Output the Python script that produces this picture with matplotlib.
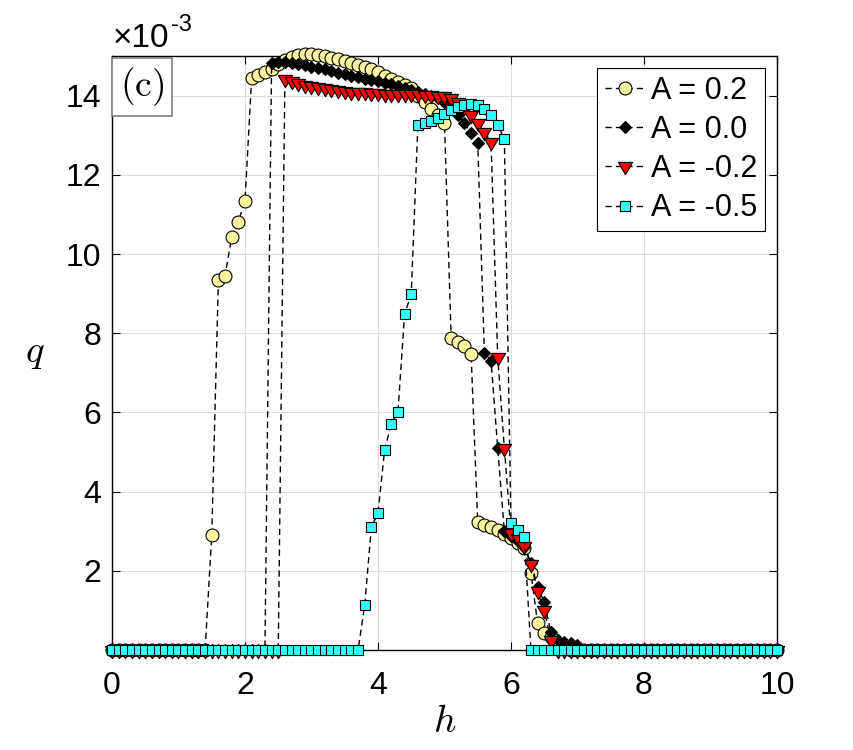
import matplotlib
matplotlib.use("Agg")
import matplotlib.pyplot as plt
from matplotlib.path import Path

plt.rcParams['font.family'] = ['Liberation Sans', 'DejaVu Sans']
plt.rcParams['mathtext.fontset'] = 'cm'

# h grid (step 0.1 from 0 to 10)
h = [i / 10 for i in range(101)]

# q values in units of 1e-3
q_p02 = [0, 0, 0, 0, 0, 0, 0, 0, 0, 0,
         0, 0, 0, 0, 0, 2.9, 9.35, 9.45, 10.43, 10.82,
         11.34, 14.45, 14.52, 14.6, 14.68, 14.8, 14.9, 14.98, 15.03, 15.05,
         15.05, 15.03, 15.0, 14.96, 14.92, 14.87, 14.83, 14.78, 14.72, 14.66,
         14.6, 14.5, 14.42, 14.35, 14.27, 14.18, 14.0, 13.85, 13.67, 13.5,
         13.3, 7.88, 7.78, 7.67, 7.47, 3.23, 3.16, 3.1, 3.02, 2.92,
         2.82, 2.7, 2.57, 1.95, 0.68, 0.42, 0.33, 0.15, 0.05, 0,
         0, 0, 0, 0, 0, 0, 0, 0, 0, 0,
         0, 0, 0, 0, 0, 0, 0, 0, 0, 0,
         0, 0, 0, 0, 0, 0, 0, 0, 0, 0,
         0]
q_000 = [0, 0, 0, 0, 0, 0, 0, 0, 0, 0,
         0, 0, 0, 0, 0, 0, 0, 0, 0, 0,
         0, 0, 0, 0, 14.83, 14.85, 14.85, 14.83, 14.8, 14.77,
         14.73, 14.7, 14.66, 14.62, 14.58, 14.55, 14.5, 14.47, 14.43, 14.4,
         14.37, 14.33, 14.3, 14.25, 14.2, 14.15, 14.1, 14.05, 14.0, 13.93,
         13.85, 13.7, 13.5, 13.3, 13.05, 12.8, 7.5, 7.3, 5.1, 3.0,
         2.88, 2.75, 2.6, 2.2, 1.6, 1.2, 0.45, 0.25, 0.2, 0.17,
         0.13, 0, 0, 0, 0, 0, 0, 0, 0, 0,
         0, 0, 0, 0, 0, 0, 0, 0, 0, 0,
         0, 0, 0, 0, 0, 0, 0, 0, 0, 0,
         0]
q_m02 = [0, 0, 0, 0, 0, 0, 0, 0, 0, 0,
         0, 0, 0, 0, 0, 0, 0, 0, 0, 0,
         0, 0, 0, 0, 0, 0, 14.42, 14.36, 14.31, 14.27,
         14.24, 14.21, 14.18, 14.16, 14.14, 14.12, 14.1, 14.09, 14.08, 14.07,
         14.06, 14.05, 14.05, 14.04, 14.04, 14.03, 14.03, 14.02, 14.01, 14.0,
         13.98, 13.95, 13.85, 13.7, 13.5, 13.3, 13.08, 12.82, 7.4, 5.1,
         2.95, 2.83, 2.62, 2.18, 1.48, 1.01, 0.25, 0, 0, 0,
         0, 0, 0, 0, 0, 0, 0, 0, 0, 0,
         0, 0, 0, 0, 0, 0, 0, 0, 0, 0,
         0, 0, 0, 0, 0, 0, 0, 0, 0, 0,
         0]
q_m05 = [0, 0, 0, 0, 0, 0, 0, 0, 0, 0,
         0, 0, 0, 0, 0, 0, 0, 0, 0, 0,
         0, 0, 0, 0, 0, 0, 0, 0, 0, 0,
         0, 0, 0, 0, 0, 0, 0, 0, 1.13, 3.1,
         3.46, 5.06, 5.71, 6.02, 8.48, 8.99, 13.27, 13.3, 13.37, 13.44,
         13.54, 13.63, 13.71, 13.77, 13.79, 13.77, 13.67, 13.52, 13.27, 12.91,
         3.2, 3.04, 2.86, 0, 0, 0, 0, 0, 0, 0,
         0, 0, 0, 0, 0, 0, 0, 0, 0, 0,
         0, 0, 0, 0, 0, 0, 0, 0, 0, 0,
         0, 0, 0, 0, 0, 0, 0, 0, 0, 0,
         0]

labels = ['A = 0.2', 'A = 0.0', 'A = -0.2', 'A = -0.5']

# downward triangle centred on its centroid (like MATLAB 'v')
tri_down = Path([(0, -1), (0.866, 0.5), (-0.866, 0.5), (0, -1)],
                [Path.MOVETO, Path.LINETO, Path.LINETO, Path.CLOSEPOLY])

fig = plt.figure(figsize=(8.54, 7.5), dpi=100)
ax = fig.add_axes([112/854, 100/750, 665/854, 594/750])

dash = (0, (4.5, 3))
common = dict(linestyle=dash, color='k', lw=1.0, mec='k', mew=0.8,
              clip_on=False, zorder=3)
ax.plot(h, q_p02, marker='o', ms=9.3, mfc='#fbf6a0', label=labels[0], **common)
ax.plot(h, q_000, marker='D', ms=5.8, mfc='k', label=labels[1], **common)
ax.plot(h, q_m02, marker=tri_down, ms=11.8, mfc='#ff0000', label=labels[2], **common)
ax.plot(h, q_m05, marker='s', ms=6.6, mfc='#33ffff', label=labels[3], **common)

ax.set_xlim(0, 10)
ax.set_ylim(0, 15)
ax.set_xticks([0, 2, 4, 6, 8, 10])
ax.set_yticks([2, 4, 6, 8, 10, 12, 14])
ax.tick_params(direction='in', length=6, width=0.8, labelsize=23,
               top=True, right=True, pad=8)
ax.tick_params(axis='x', pad=15)
ax.grid(True, color='#dcdcdc', lw=0.8)
ax.set_axisbelow(True)
for s in ax.spines.values():
    s.set_linewidth(1.0)

ax.set_xlabel('$h$', fontsize=28, labelpad=2)
ax.set_ylabel('$q$', fontsize=28, rotation=0, labelpad=22, va='center')

# exponent label like MATLAB
fig.text(113/854, 1 - 47/750, '×10', fontsize=24, ha='left', va='baseline')
fig.text(171/854, 1 - 31/750, '-3', fontsize=17, ha='left', va='baseline')

ax.text(0.012, 0.984, r'$\mathrm{(c)}$', transform=ax.transAxes, fontsize=27,
        ha='left', va='top', zorder=5,
        bbox=dict(boxstyle='square,pad=0.2', fc='white', ec='#808080', lw=1.2))

leg = ax.legend(loc='upper right', fontsize=22, frameon=True, fancybox=False,
                edgecolor='k', framealpha=1, handlelength=1.3,
                borderaxespad=0.4, labelspacing=0.3, handletextpad=0.2,
                borderpad=0.25)
leg.get_frame().set_linewidth(0.8)
leg.set_zorder(6)

fig.savefig('out.png', dpi=100)
